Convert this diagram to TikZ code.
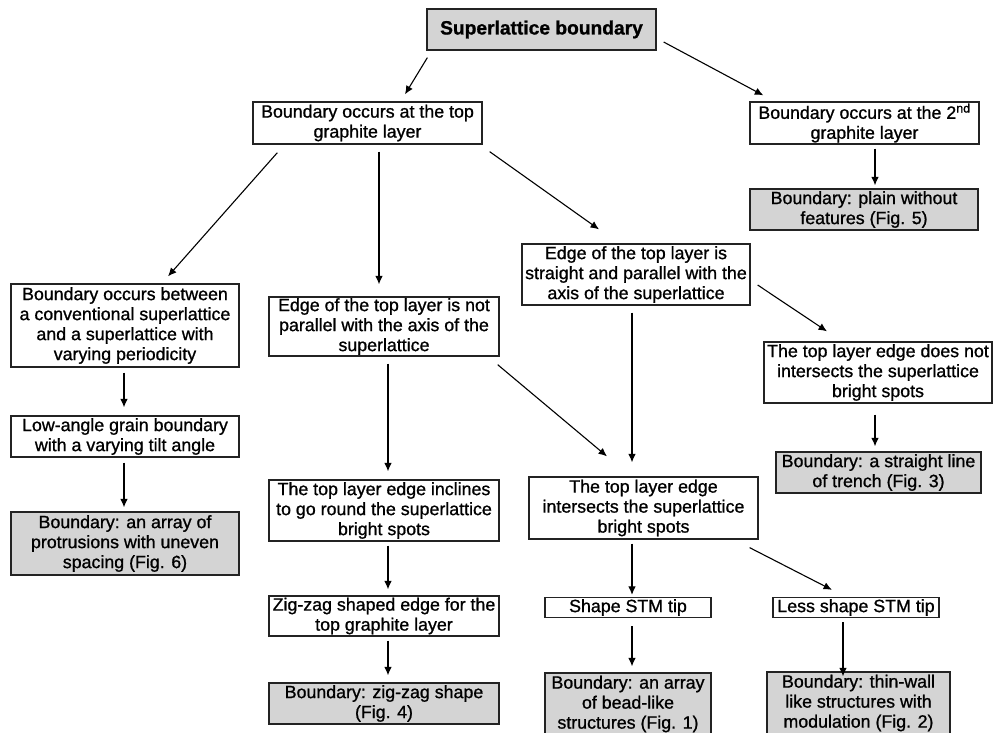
\documentclass[tikz,border=0pt]{standalone}
\usepackage{fontspec}
\setmainfont{Liberation Sans}[FakeBold=1]
\usetikzlibrary{arrows.meta}
\definecolor{boxgray}{RGB}{212,212,212}
\definecolor{boxline}{RGB}{35,35,35}
\tikzstyle{condition}=[rectangle,draw=boxline,line width=1.3pt,inner sep=0pt,align=center,font=\fontsize{17.8}{20}\selectfont]
\tikzstyle{result}=[condition,fill=boxgray]
\tikzstyle{branch}=[-{Latex[length=8.5pt,width=7.5pt]},line width=1.1pt,draw=black]

\begin{document}
\begin{tikzpicture}[x=1pt,y=-1pt]
                    \useasboundingbox (0,0) rectangle (993,732);
                    \clip (0,0) rectangle (993,732);

                    \node (root) at (541.5,29.5) [result,minimum width=229pt,minimum height=41pt,font=\fontsize{19.2}{22}\selectfont\bfseries] {Superlattice boundary};
                    \node (top) at (367.5,123) [condition,minimum width=229pt,minimum height=42pt] {Boundary occurs at the top\\graphite layer};
                    \node (second) at (864.5,123) [condition,minimum width=229pt,minimum height=42pt] {Boundary occurs at the 2\textsuperscript{nd}\\graphite layer};
                    \node (plain) at (864,209.5) [result,minimum width=228pt,minimum height=41pt] {Boundary: plain without\\features (Fig. 5)};
                    \node (straight) at (636,274.5) [condition,minimum width=228pt,minimum height=61pt] {Edge of the top layer is\\straight and parallel with the\\axis of the superlattice};
                    \node (between) at (125,325.5) [condition,minimum width=228pt,minimum height=83pt] {Boundary occurs between\\a conventional superlattice\\and a superlattice with\\varying periodicity};
                    \node (notpar) at (384,326.5) [condition,minimum width=230pt,minimum height=59pt] {Edge of the top layer is not\\parallel with the axis of the\\superlattice};
                    \node (notint) at (878,372.5) [condition,minimum width=228pt,minimum height=61pt] {The top layer edge does not\\intersects the superlattice\\bright spots};
                    \node (trench) at (878.5,472.5) [result,minimum width=205pt,minimum height=41pt] {Boundary: a straight line\\of trench (Fig. 3)};
                    \node (lowangle) at (125,436.5) [condition,minimum width=228pt,minimum height=41pt] {Low-angle grain boundary\\with a varying tilt angle};
                    \node (protrusion) at (125,543.5) [result,minimum width=228pt,minimum height=63pt] {Boundary: an array of\\protrusions with uneven\\spacing (Fig. 6)};
                    \node (incline) at (384,510.5) [condition,minimum width=230pt,minimum height=61pt] {The top layer edge inclines\\to go round the superlattice\\bright spots};
                    \node (intersect) at (643.5,508) [condition,minimum width=229pt,minimum height=62pt] {The top layer edge\\intersects the superlattice\\bright spots};
                    \node (zigedge) at (384,616) [condition,minimum width=230pt,minimum height=40pt] {Zig-zag shaped edge for the\\top graphite layer};
                    \node (zigshape) at (384,703.5) [result,minimum width=230pt,minimum height=41pt] {Boundary: zig-zag shape\\(Fig. 4)};
                    \node (sharp) at (628,607.5) [condition,minimum width=166pt,minimum height=20pt] {Shape STM tip};
                    \node (less) at (856,607.5) [condition,minimum width=166pt,minimum height=20pt] {Less shape STM tip};
                    \node (bead) at (628,704) [result,minimum width=166pt,minimum height=62pt] {Boundary: an array\\of bead-like\\structures (Fig. 1)};
                    \node (thinwall) at (858.5,703) [result,minimum width=183pt,minimum height=62pt] {Boundary: thin-wall\\like structures with\\modulation (Fig. 2)};

                    \draw [branch] ([shift={(1,7)}]root.south west) -- ([shift={(37.5,-7)}]top.north);
                    \draw [branch] ([shift={(7,12.5)}]root.east) -- ([shift={(14,-6)}]second.north west);
                    \draw [branch] ([shift={(10.5,4)}]second.south) -- ([shift={(11,-3)}]plain.north);
                    \draw [branch] ([shift={(25,8)}]top.south west) -- ([shift={(43,-7)}]between.north);
                    \draw [branch] ([shift={(11.5,7)}]top.south) -- ([shift={(-5,-12)}]notpar.north);
                    \draw [branch] ([shift={(7,7)}]top.south east) -- ([shift={(-37,-14)}]straight.north);
                    \draw [branch] ([shift={(-1,5)}]between.south) -- ([shift={(-1,-8)}]lowangle.north);
                    \draw [branch] ([shift={(-1,5)}]lowangle.south) -- ([shift={(-1,-4)}]protrusion.north);
                    \draw [branch] ([shift={(4,7)}]notpar.south) -- ([shift={(4,-8)}]incline.north);
                    \draw [branch] ([shift={(-2,8)}]notpar.south east) -- ([shift={(-36.5,-20)}]intersect.north);
                    \draw [branch] ([shift={(-4,7)}]straight.south) -- ([shift={(-11.5,-14)}]intersect.north);
                    \draw [branch] ([shift={(7,10.5)}]straight.east) -- ([shift={(-51,-10)}]notint.north);
                    \draw [branch] ([shift={(-3,11)}]notint.south) -- ([shift={(-3.5,-5)}]trench.north);
                    \draw [branch] ([shift={(4,4)}]incline.south) -- ([shift={(4,-6)}]zigedge.north);
                    \draw [branch] ([shift={(4,4)}]zigedge.south) -- ([shift={(4,-7)}]zigshape.north);
                    \draw [branch] ([shift={(-11.5,4)}]intersect.south) -- ([shift={(4,-2)}]sharp.north);
                    \draw [branch] ([shift={(-9,8)}]intersect.south east) -- ([shift={(-24,-7)}]less.north);
                    \draw [branch] ([shift={(4,8)}]sharp.south) -- ([shift={(4,-6)}]bead.north);
                    \draw [branch] ([shift={(-13,4)}]less.south) -- ([shift={(-15.5,5)}]thinwall.north);
                \end{tikzpicture}
\end{document}
